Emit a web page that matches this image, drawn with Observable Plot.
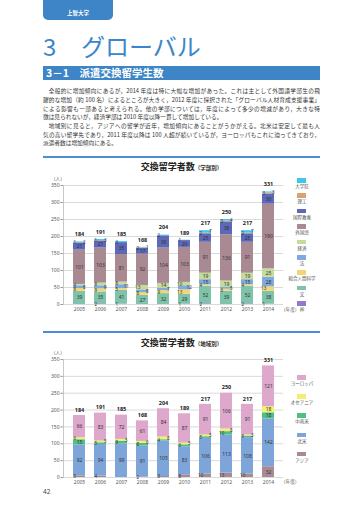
<!DOCTYPE html>
<html><head><meta charset="utf-8">
<script src="https://cdn.jsdelivr.net/npm/d3@7"></script>
<script src="https://cdn.jsdelivr.net/npm/@observablehq/plot@0.6"></script>
<style>
html,body{margin:0;padding:0;background:#fff;}
body{width:360px;height:509px;position:relative;overflow:hidden;font-family:"Noto Sans CJK JP","Noto Sans",sans-serif;color:#333;}
.abs{position:absolute;white-space:nowrap;}
#tab{left:43px;top:0;width:70px;height:20px;background:#3d85c6;border-radius:0 0 5px 5px;color:#fff;font-size:5.5px;text-align:center;line-height:27px;font-weight:bold;}
.big{font-size:24px;color:#3a86c8;line-height:24px;top:34px;}
#sec{left:43px;top:66px;width:277px;height:14px;background:#3d85c6;color:#fff;font-weight:bold;font-size:10.5px;line-height:14px;}
.line{left:43px;width:277px;font-size:5.7px;line-height:8px;text-align:justify;text-align-last:justify;white-space:normal;font-family:"Noto Sans CJK JP",sans-serif;color:#333;}
.line.last{text-align-last:left;}
.rule{left:43px;width:277px;height:2px;background:#4a8fd0;}
.ctitle{left:43px;width:277px;text-align:center;font-weight:bold;font-size:9px;line-height:12px;color:#222;}
.ctitle small{font-size:5.5px;font-weight:bold;}
.unit{font-size:4.6px;color:#555;font-family:"Noto Sans CJK JP",sans-serif;}
.sw{position:absolute;width:9px;height:4.5px;}
.lg{position:absolute;font-size:4.5px;color:#555;width:40px;text-align:center;line-height:6px;font-family:"Noto Sans CJK JP",sans-serif;}
.chart{position:absolute;left:0;}
</style></head>
<body>
<div id="tab" class="abs">上智大学</div>
<div class="abs big" style="left:43px">3</div>
<div class="abs big" style="left:81px">グローバル</div>
<div id="sec" class="abs"><span style="margin-left:3px">3－1　派遣交換留学生数</span></div>

<div class="abs line" style="top:87px;text-indent:5.7px">全般的に増加傾向にあるが，2014 年度は特に大幅な増加があった。これは主として外国語学部生の飛</div>
<div class="abs line" style="top:96px">躍的な増加（約 100 名）によるところが大きく，2012 年度に採択された「グローバル人材育成支援事業」</div>
<div class="abs line" style="top:105px">による影響も一部あると考えられる。他の学部については，年度によって多少の増減があり，大きな特</div>
<div class="abs line last" style="top:113px">徴は見られないが，経済学部は 2010 年度以降一貫して増加している。</div>
<div class="abs line" style="top:122px;text-indent:5.7px">地域別に見ると，アジアへの留学が近年，増加傾向にあることがうかがえる。北米は安定して最も人</div>
<div class="abs line" style="top:131px">気の高い留学先であり，2011 年度以降は 100 人超が続いているが，ヨーロッパもこれに迫ってきており，</div>
<div class="abs line last" style="top:139px">派遣者数は増加傾向にある。</div>

<div class="abs rule" style="top:156px"></div>
<div class="abs ctitle" style="top:161px">交換留学者数<small>（学部別）</small></div>
<div class="abs unit" style="left:51px;top:175px">（人）</div>
<div class="abs unit" style="left:281px;top:306px">（年度）</div>
<div id="chart1" class="chart" style="top:175px"></div>
<div id="legend1"></div>

<div class="abs rule" style="top:331px"></div>
<div class="abs ctitle" style="top:337px">交換留学者数<small>（地域別）</small></div>
<div class="abs unit" style="left:51px;top:349px">（人）</div>
<div class="abs unit" style="left:281px;top:478px">（年度）</div>
<div id="chart2" class="chart" style="top:350px"></div>
<div id="legend2"></div>

<div class="abs" style="left:43px;top:487px;font-size:6.5px;color:#444;font-family:'Noto Sans',sans-serif">42</div>

<script>
// ---- data ----
const years = ["2005","2006","2007","2008","2009","2010","2011","2012","2013","2014"];
const yTicks = [0, 50, 100, 150, 200, 250, 300, 350];

// chart 1: by faculty (bottom to top)
const facultyCats = ["神","文","総合人間科学","法","経済","外国語","国際教養","理工","大学院"];
const theology     = [0, 2, 1, 0, 0, 1, 2, 0, 2, 1];
const humanities   = [39, 35, 41, 27, 32, 29, 52, 39, 52, 38];
const humanSci     = [8, 9, 5, 8, 9, 13, 4, 6, 4, 13];
const law          = [8, 9, 11, 8, 7, 12, 15, 5, 15, 28];
const economics    = [4, 8, 8, 13, 14, 10, 19, 19, 19, 25];
const foreignLang  = [101, 103, 81, 92, 104, 103, 91, 136, 91, 190];
const liberalArts  = [21, 21, 35, 17, 36, 20, 25, 38, 25, 30];
const sciEng       = [1, 1, 0, 2, 0, 0, 2, 3, 2, 3];
const graduate     = [2, 3, 3, 1, 2, 1, 7, 4, 7, 3];
const facultyTotals = [184, 191, 185, 168, 204, 189, 217, 250, 217, 331];

// chart 2: by region (bottom to top)
const regionCats = ["アジア","北米","中南米","オセアニア","ヨーロッパ"];
const asia        = [5, 4, 0, 2, 3, 8, 10, 13, 10, 32];
const northAm     = [92, 94, 99, 91, 105, 83, 106, 113, 108, 142];
const latinAm     = [15, 5, 9, 8, 4, 6, 5, 10, 5, 18];
const oceania     = [6, 5, 5, 6, 8, 5, 5, 8, 3, 18];
const europe      = [66, 83, 72, 61, 84, 87, 91, 106, 91, 121];
const regionTotals = [184, 191, 185, 168, 204, 189, 217, 250, 217, 331];

// ---- styles ----
const facultyColors = ["#8f7bc9","#7fc4aa","#f4d576","#80a9dd","#c5dc98","#a98a93","#5d68b8","#d9a273","#3fc6ea"];
const regionColors  = ["#a98a93","#7ea5d9","#4fbf82","#f3ee72","#dda8cc"];

function makeChart(cats, series, colors, totals, height, marginTop, totalDy) {
  const rows = [];
  years.forEach((y, j) => {
    let flip = -1;
    cats.forEach((c, i) => {
      const v = series[i][j];
      let side = 0;
      if (v > 0 && v < 14) { side = flip; flip = -flip; } else if (v >= 14) { flip = -1; }
      rows.push({year: y, cat: c, v, side});
    });
  });
  const label = (s) => Plot.text(rows, Plot.stackY({x: "year", y: "v", z: "cat", order: cats,
    text: d => (d.v > 0 && d.side === s) ? String(d.v) : null,
    dx: s * 4.8, fill: "#333", fontSize: s === 0 ? 5 : 4.5}));
  return Plot.plot({
    width: 290, height, marginLeft: 63, marginRight: 7, marginTop, marginBottom: 13,
    style: {fontFamily: "'Noto Sans', sans-serif", fontSize: "5px", color: "#555", background: "transparent", overflow: "visible"},
    x: {type: "band", domain: years, padding: 0.43},
    y: {domain: [0, 350]},
    color: {domain: cats, range: colors},
    marks: [
      Plot.gridY(yTicks, {stroke: "#d0d0d0", strokeOpacity: 1, strokeWidth: 0.8}),
      Plot.frame({anchor: "left", stroke: "#c8c8c8"}),
      Plot.barY(rows, Plot.stackY({x: "year", y: "v", fill: "cat", order: cats})),
      label(0), label(-1), label(1),
      Plot.text(years, {x: d => d, y: (d, i) => totals[i], text: (d, i) => String(totals[i]),
        dy: totalDy, fontWeight: "bold", fill: "#222", fontSize: 5.5}),
      Plot.axisX({tickSize: 0, tickPadding: 3, label: null, fontSize: 5}),
      Plot.axisY(yTicks, {tickSize: 2.5, tickPadding: 1.5, label: null, stroke: "#999", fontSize: 5})
    ]
  });
}

document.getElementById("chart1").append(makeChart(
  facultyCats,
  [theology, humanities, humanSci, law, economics, foreignLang, liberalArts, sciEng, graduate],
  facultyColors, facultyTotals, 142, 10, -7.5));
document.getElementById("chart2").append(makeChart(
  regionCats, [asia, northAm, latinAm, oceania, europe],
  regionColors, regionTotals, 140, 9, -5.5));

function legend(id, cats, colors, top0, step) {
  const el = document.getElementById(id);
  const order = cats.map((c, i) => i).reverse();
  order.forEach((idx, k) => {
    const sw = document.createElement("div");
    sw.className = "sw";
    sw.style.left = "297px";
    sw.style.top = (top0 + k * step) + "px";
    sw.style.background = colors[idx];
    el.append(sw);
    const lb = document.createElement("div");
    lb.className = "lg";
    lb.style.left = "282px";
    lb.style.top = (top0 + k * step + 5) + "px";
    lb.textContent = cats[idx];
    el.append(lb);
  });
}
legend("legend1", facultyCats, facultyColors, 178, 15.4);
legend("legend2", regionCats, regionColors, 375, 19.2);
</script>
</body></html>
